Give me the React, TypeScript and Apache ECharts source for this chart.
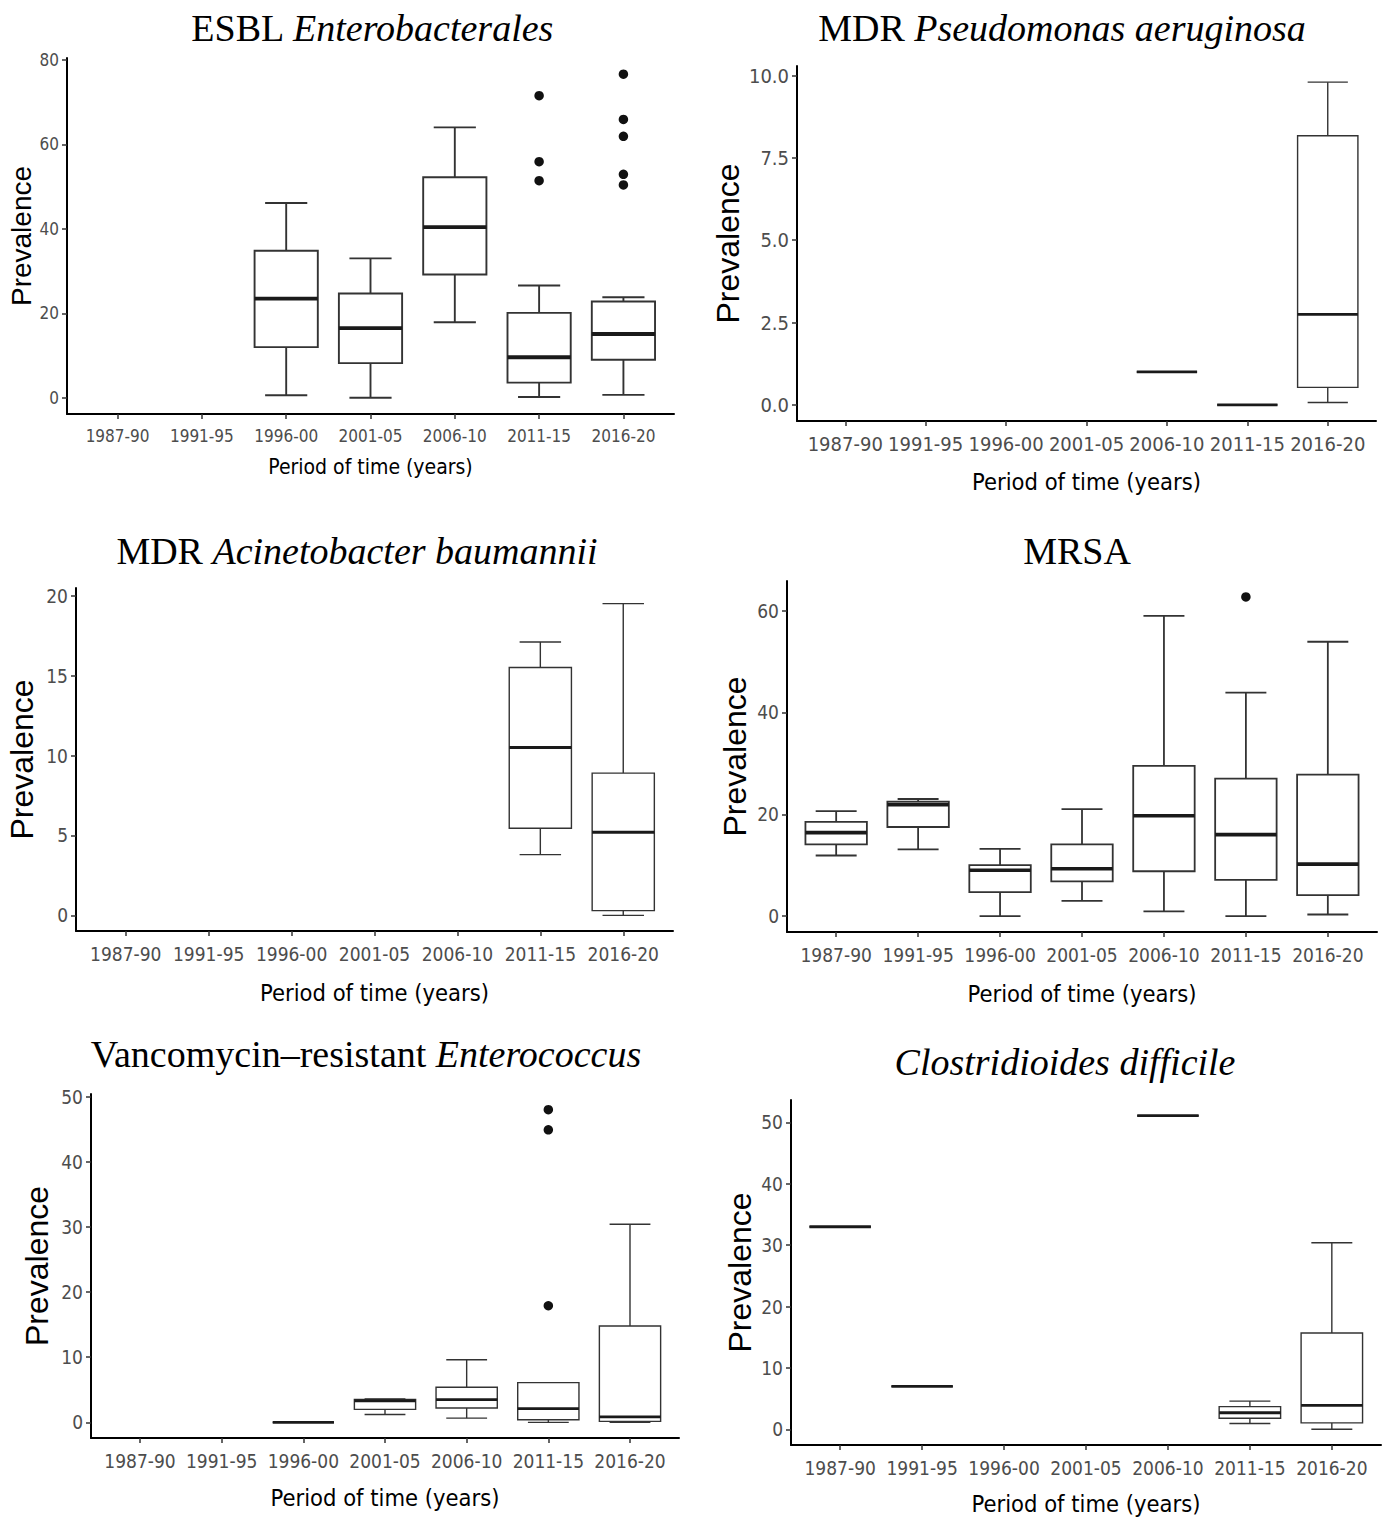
import React, { useEffect, useRef } from "react";
import * as echarts from "echarts";

const periods = ["1987-90", "1991-95", "1996-00", "2001-05", "2006-10", "2011-15", "2016-20"];

// box rows: [periodIndex, lowerWhisker, Q1, median, Q3, upperWhisker]
const esblBoxes = [
  [2, 0.6, 12.0, 23.5, 34.8, 46.1],
  [3, 0, 8.2, 16.5, 24.7, 33.0],
  [4, 17.9, 29.2, 40.4, 52.2, 64.0],
  [5, 0.2, 3.6, 9.6, 20.1, 26.6],
  [6, 0.7, 9.0, 15.1, 22.8, 23.8],
];
const esblOutliers = [[5, 71.5], [5, 55.9], [5, 51.4], [6, 76.6], [6, 65.9], [6, 61.9], [6, 52.9], [6, 50.4]];
const esblTicks = [0, 20, 40, 60, 80];

const pseudoBoxes = [
  [4, 1, 1, 1, 1, 1],
  [5, 0, 0, 0, 0, 0],
  [6, 0.07, 0.53, 2.75, 8.17, 9.8],
];
const pseudoOutliers: number[][] = [];
const pseudoTicks = [0, 2.5, 5, 7.5, 10];

const acinetoBoxes = [
  [5, 3.8, 5.45, 10.5, 15.5, 17.1],
  [6, 0, 0.3, 5.2, 8.9, 19.5],
];
const acinetoOutliers: number[][] = [];
const acinetoTicks = [0, 5, 10, 15, 20];

const mrsaBoxes = [
  [0, 11.9, 14.1, 16.4, 18.5, 20.6],
  [1, 13.1, 17.5, 21.9, 22.5, 23.0],
  [2, 0, 4.7, 9.0, 10.0, 13.2],
  [3, 3.0, 6.8, 9.3, 14.1, 21.0],
  [4, 0.9, 8.8, 19.7, 29.5, 59.0],
  [5, 0, 7.1, 16.0, 27.0, 43.9],
  [6, 0.3, 4.1, 10.2, 27.8, 53.9],
];
const mrsaOutliers = [[5, 62.7]];
const mrsaTicks = [0, 20, 40, 60];

const vreBoxes = [
  [2, 0, 0, 0, 0, 0],
  [3, 1.2, 2.0, 3.3, 3.5, 3.6],
  [4, 0.65, 2.2, 3.5, 5.4, 9.6],
  [5, 0, 0.4, 2.1, 6.1, 6.1],
  [6, 0, 0.15, 0.85, 14.8, 30.4],
];
const vreOutliers = [[5, 48.0], [5, 44.9], [5, 17.9]];
const vreTicks = [0, 10, 20, 30, 40, 50];

const cdiffBoxes = [
  [0, 33, 33, 33, 33, 33],
  [1, 7, 7, 7, 7, 7],
  [4, 51.1, 51.1, 51.1, 51.1, 51.1],
  [5, 0.95, 1.8, 2.7, 3.7, 4.6],
  [6, 0, 1.05, 3.9, 15.7, 30.4],
];
const cdiffOutliers: number[][] = [];
const cdiffTicks = [0, 10, 20, 30, 40, 50];

const NARROW = "'DejaVu Sans Condensed', 'Liberation Sans Narrow', 'Liberation Sans', sans-serif";
const SANS = "'Liberation Sans', Arial, sans-serif";
const SERIF = "'Liberation Serif', 'Times New Roman', serif";

const panels = [
  {
    boxes: esblBoxes, outliers: esblOutliers, ticks: esblTicks, dec: 0,
    title: ["ESBL ", "Enterobacterales"], tx: 372, ty: 28,
    grid: { left: 67, top: 58, width: 607, height: 356 },
    yGap: 32, xGap: 42.5, lw: 1.9, tickFont: 17, xFont: 21, yFont: 28,
  },
  {
    boxes: pseudoBoxes, outliers: pseudoOutliers, ticks: pseudoTicks, dec: 1,
    title: ["MDR ", "Pseudomonas aeruginosa"], tx: 1062, ty: 28,
    grid: { left: 797, top: 66, width: 579, height: 355 },
    yGap: 53, xGap: 48.5, lw: 1.4, tickFont: 20, xFont: 23.5, yFont: 32,
  },
  {
    boxes: acinetoBoxes, outliers: acinetoOutliers, ticks: acinetoTicks, dec: 0,
    title: ["MDR ", "Acinetobacter baumannii"], tx: 357, ty: 551,
    grid: { left: 76, top: 588, width: 597, height: 343 },
    yGap: 38, xGap: 49.5, lw: 1.4, tickFont: 19, xFont: 23.5, yFont: 32,
  },
  {
    boxes: mrsaBoxes, outliers: mrsaOutliers, ticks: mrsaTicks, dec: 0,
    title: ["MRSA", ""], tx: 1077, ty: 551,
    grid: { left: 787, top: 581, width: 590, height: 351 },
    yGap: 36, xGap: 49.5, lw: 1.8, tickFont: 19, xFont: 23.5, yFont: 32,
  },
  {
    boxes: vreBoxes, outliers: vreOutliers, ticks: vreTicks, dec: 0,
    title: ["Vancomycin\u2013resistant ", "Enterococcus"], tx: 366, ty: 1054,
    grid: { left: 91, top: 1094, width: 588, height: 344 },
    yGap: 38, xGap: 47.5, lw: 1.4, tickFont: 19, xFont: 23.5, yFont: 32,
  },
  {
    boxes: cdiffBoxes, outliers: cdiffOutliers, ticks: cdiffTicks, dec: 0,
    title: ["", "Clostridioides difficile"], tx: 1065, ty: 1062,
    grid: { left: 791, top: 1100, width: 590, height: 345 },
    yGap: 35, xGap: 46.5, lw: 1.4, tickFont: 19, xFont: 23.5, yFont: 32,
  },
];

const catTicks = periods.map((_, i) => i);

function buildOption() {
  const grid: any[] = [];
  const xAxis: any[] = [];
  const yAxis: any[] = [];
  const series: any[] = [];
  const graphic: any[] = [];

  panels.forEach((p, i) => {
    const vals: number[] = [];
    p.boxes.forEach((b) => vals.push(...b.slice(1)));
    p.outliers.forEach((o) => vals.push(o[1]));
    const lo = Math.min(...vals);
    const hi = Math.max(...vals);
    const span = hi - lo;

    grid.push({ ...p.grid, containLabel: false });
    xAxis.push({
      type: "value",
      gridIndex: i,
      min: -0.6,
      max: 6.6,
      splitLine: { show: false },
      axisLine: { show: true, onZero: false, lineStyle: { color: "#000", width: 2 } },
      axisTick: { show: true, customValues: catTicks, length: 5, lineStyle: { color: "#333", width: 1.5 } },
      axisLabel: {
        customValues: catTicks,
        formatter: (v: number) => periods[Math.round(v)],
        color: "#4d4d4d",
        fontSize: p.tickFont,
        fontFamily: NARROW,
        margin: 13,
      },
      name: "Period of time (years)",
      nameLocation: "middle",
      nameGap: p.xGap,
      nameTextStyle: { color: "#000", fontSize: p.xFont, fontFamily: NARROW },
    });
    yAxis.push({
      type: "value",
      gridIndex: i,
      min: lo - 0.05 * span,
      max: hi + 0.05 * span,
      splitLine: { show: false },
      axisLine: { show: true, onZero: false, lineStyle: { color: "#000", width: 2 } },
      axisTick: { show: true, customValues: p.ticks, length: 5, lineStyle: { color: "#333", width: 1.5 } },
      axisLabel: {
        customValues: p.ticks,
        formatter: (v: number) => (p.dec ? v.toFixed(p.dec) : String(v)),
        color: "#4d4d4d",
        fontSize: p.tickFont,
        fontFamily: NARROW,
        margin: 8,
      },
      name: "Prevalence",
      nameLocation: "middle",
      nameRotate: 90,
      nameGap: p.yGap,
      nameTextStyle: { color: "#000", fontSize: p.yFont, fontFamily: SANS },
    });

    const lw = p.lw;
    series.push({
      type: "custom",
      xAxisIndex: i,
      yAxisIndex: i,
      clip: false,
      data: p.boxes,
      renderItem: (_params: any, api: any) => {
        const x = api.value(0);
        const vLo = api.value(1), vQ1 = api.value(2), vMed = api.value(3), vQ3 = api.value(4), vHi = api.value(5);
        const unit = api.size([1, 0])[0];
        const bw = (unit * 0.75) / 2;
        const cw = (unit * 0.5) / 2;
        const pLo = api.coord([x, vLo]);
        const pQ1 = api.coord([x, vQ1]);
        const pMed = api.coord([x, vMed]);
        const pQ3 = api.coord([x, vQ3]);
        const pHi = api.coord([x, vHi]);
        const cx = pMed[0];
        const st = { stroke: "#333333", lineWidth: lw, fill: null };
        return {
          type: "group",
          children: [
            { type: "line", shape: { x1: cx, y1: pQ3[1], x2: cx, y2: pHi[1] }, style: st },
            { type: "line", shape: { x1: cx, y1: pQ1[1], x2: cx, y2: pLo[1] }, style: st },
            { type: "line", shape: { x1: cx - cw, y1: pHi[1], x2: cx + cw, y2: pHi[1] }, style: st },
            { type: "line", shape: { x1: cx - cw, y1: pLo[1], x2: cx + cw, y2: pLo[1] }, style: st },
            {
              type: "rect",
              shape: { x: cx - bw, y: pQ3[1], width: 2 * bw, height: pQ1[1] - pQ3[1] },
              style: { fill: "#ffffff", stroke: "#333333", lineWidth: lw },
            },
            {
              type: "line",
              shape: { x1: cx - bw, y1: pMed[1], x2: cx + bw, y2: pMed[1] },
              style: { stroke: "#1a1a1a", lineWidth: lw * 2 },
            },
          ],
        };
      },
    });
    if (p.outliers.length) {
      series.push({
        type: "scatter",
        xAxisIndex: i,
        yAxisIndex: i,
        data: p.outliers,
        symbolSize: 9.5,
        itemStyle: { color: "#111111", opacity: 1 },
        z: 5,
      });
    }

    graphic.push({
      type: "text",
      x: p.tx,
      y: p.ty,
      style: {
        text: (p.title[0] ? "{n|" + p.title[0] + "}" : "") + (p.title[1] ? "{i|" + p.title[1] + "}" : ""),
        align: "center",
        verticalAlign: "middle",
        rich: {
          n: { fontFamily: SERIF, fontSize: 38, fill: "#000", fontStyle: "normal" },
          i: { fontFamily: SERIF, fontSize: 38, fill: "#000", fontStyle: "italic" },
        },
      },
    });
  });

  return {
    animation: false,
    backgroundColor: "#ffffff",
    grid,
    xAxis,
    yAxis,
    series,
    graphic,
  };
}

export default function App() {
  const ref = useRef<HTMLDivElement>(null);
  useEffect(() => {
    document.body.style.margin = "0";
    if (!ref.current) return;
    const chart = echarts.init(ref.current, null, { renderer: "svg" });
    chart.setOption(buildOption() as any);
    return () => chart.dispose();
  }, []);
  return <div ref={ref} style={{ width: 1387, height: 1520 }} />;
}
